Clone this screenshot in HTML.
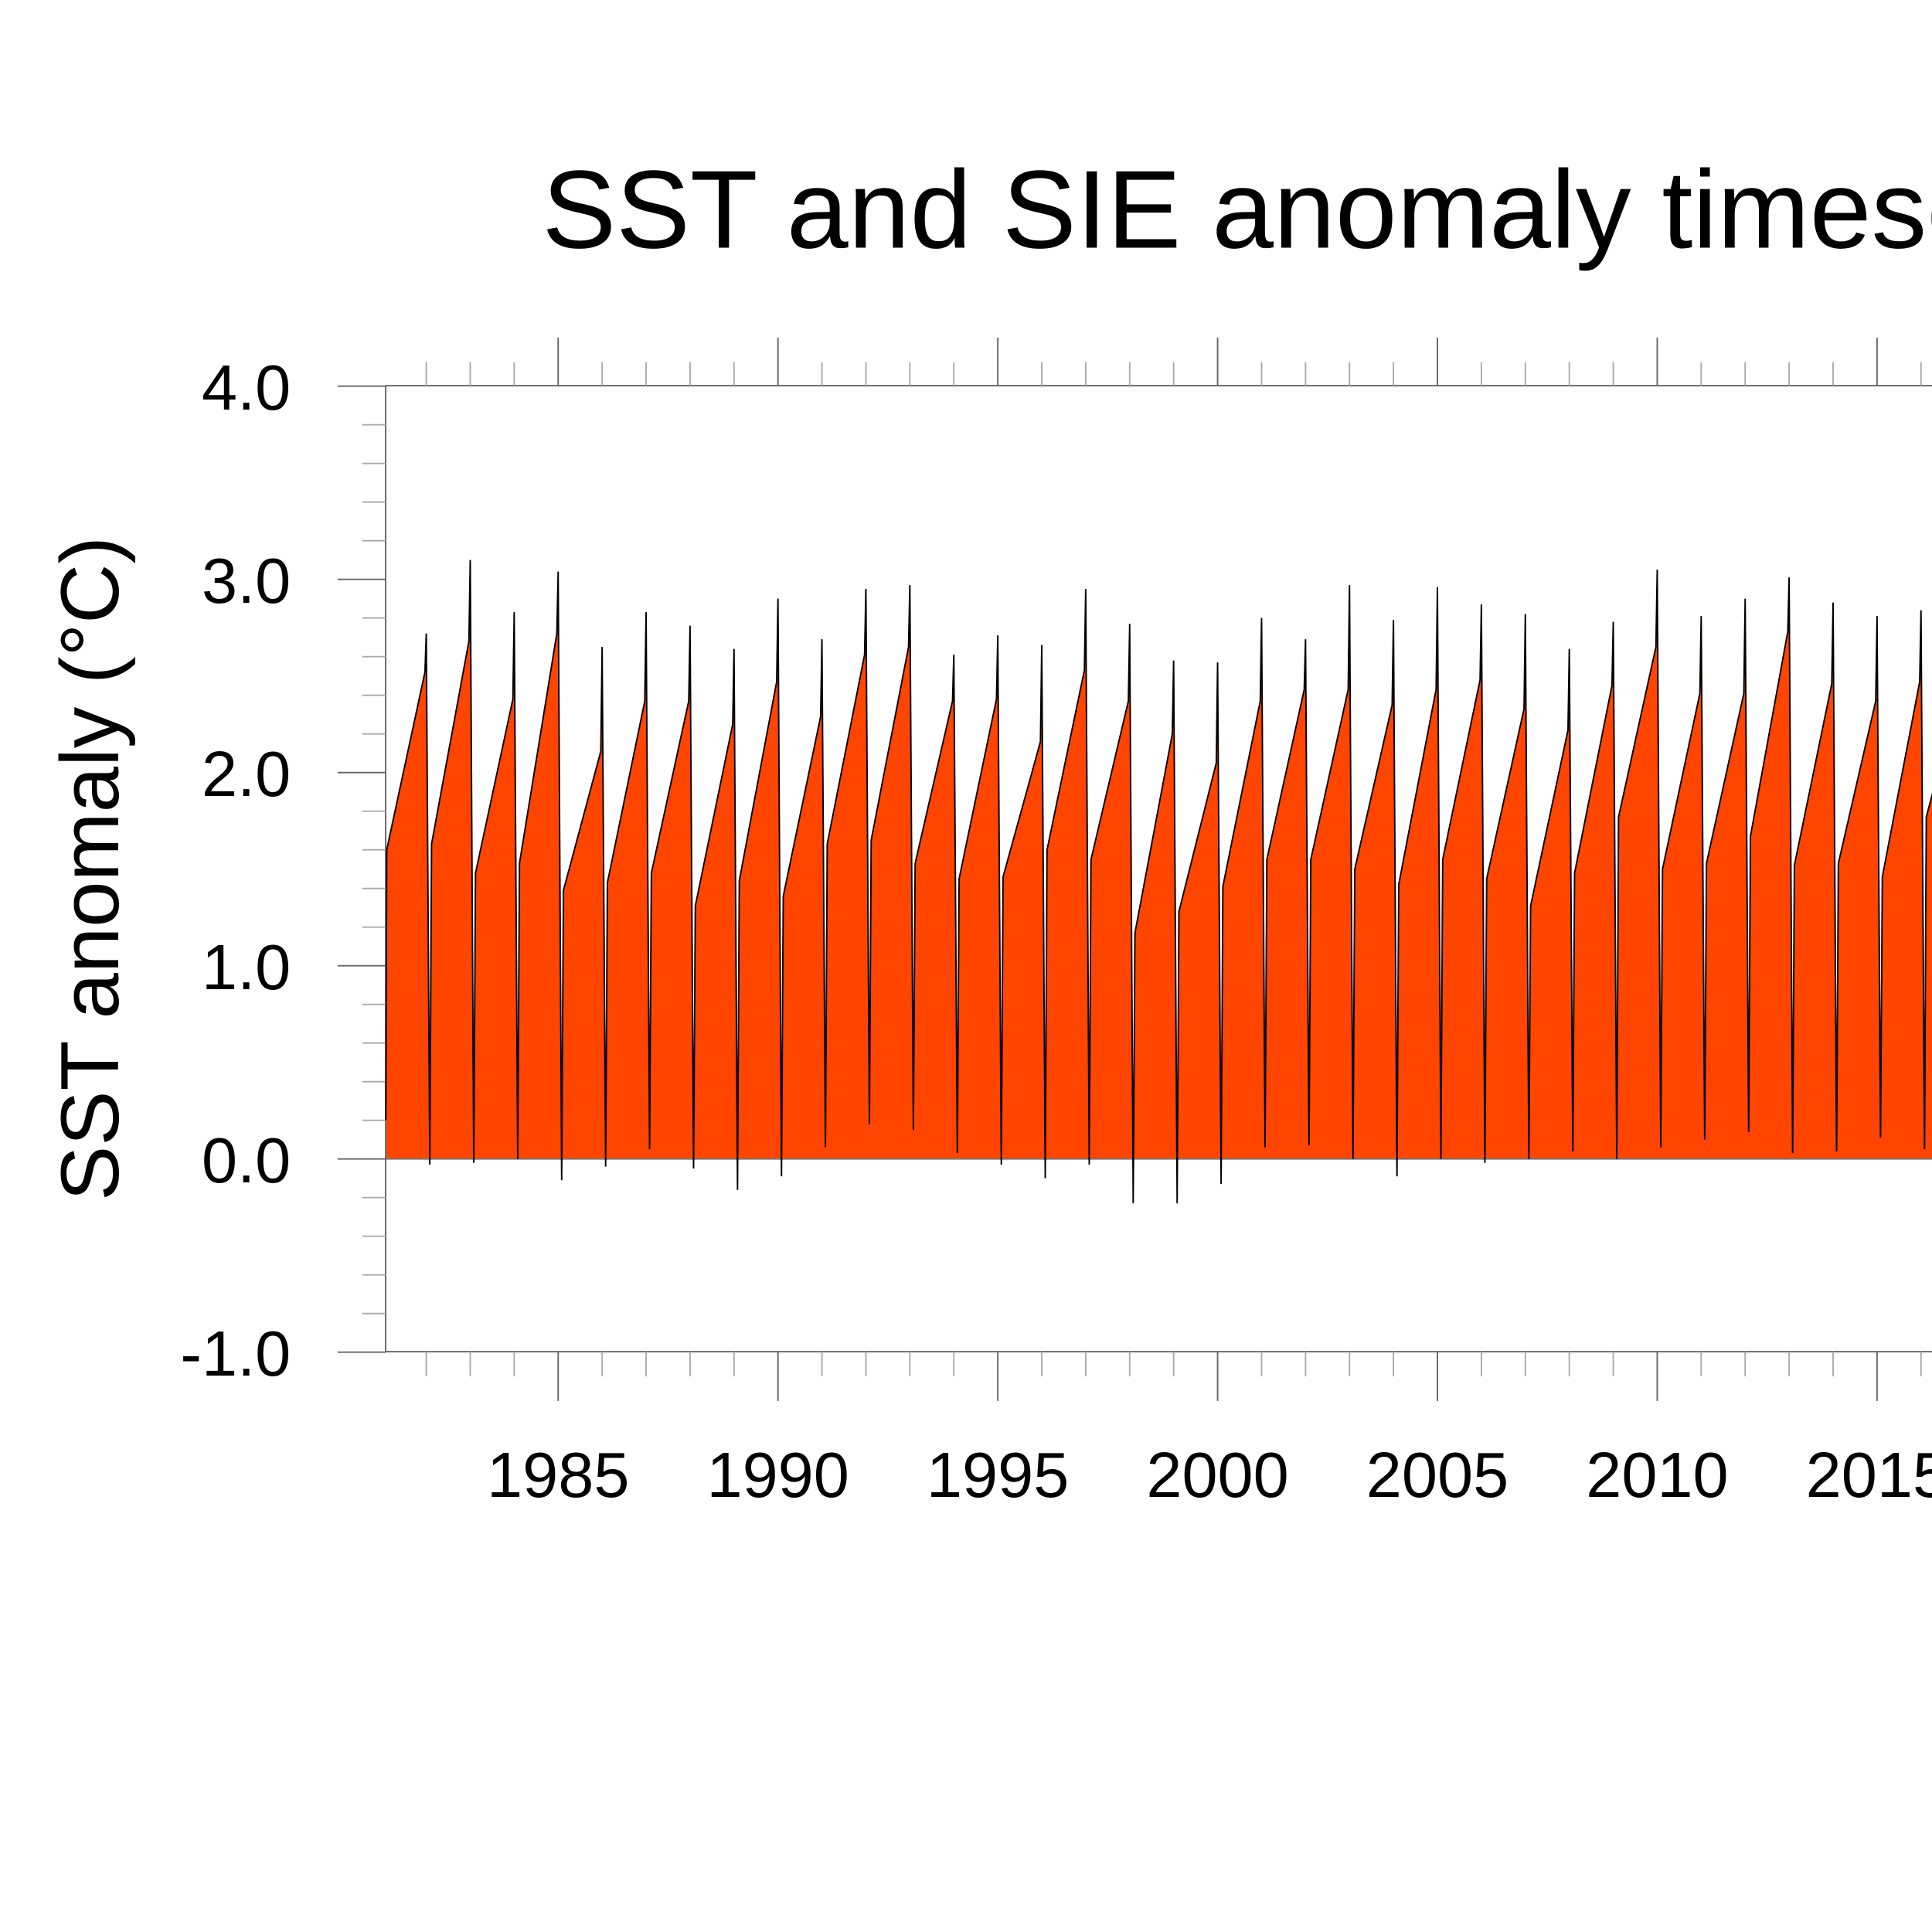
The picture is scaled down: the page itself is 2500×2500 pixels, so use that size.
<!DOCTYPE html>
<html><head><meta charset="utf-8"><style>html,body{margin:0;padding:0;background:#fff}svg{display:block}</style></head>
<body>
<svg id="chart" xmlns="http://www.w3.org/2000/svg" width="2500" height="2500" viewBox="0 0 1568 1568" font-family="Liberation Sans, sans-serif">
<text x="440" y="201" font-size="90">SST and SIE anomaly timeseries</text>
<text transform="translate(96,705) rotate(-90)" text-anchor="middle" font-size="67">SST anomaly (°C)</text>
<defs><clipPath id="above0"><rect x="313" y="0" width="2000" height="940.6"/></clipPath></defs>
<g id="fill" clip-path="url(#above0)"></g>
<g id="axes"></g>
<g id="line"></g>
</svg>
<script>
const cycleEndYears=[1982,1983,1984,1985,1986,1987,1988,1989,1990,1991,1992,1993,1994,1995,1996,1997,1998,1999,2000,2001,2002,2003,2004,2005,2006,2007,2008,2009,2010,2011,2012,2013,2014,2015,2016,2017,2018];
const startVals=[1.6,1.63,1.48,1.53,1.39,1.43,1.48,1.31,1.44,1.36,1.63,1.65,1.53,1.45,1.46,1.6,1.55,1.17,1.28,1.41,1.55,1.55,1.5,1.42,1.55,1.45,1.31,1.48,1.77,1.5,1.53,1.67,1.52,1.53,1.46,1.77,1.6];
const endVals=[2.52,2.68,2.38,2.72,2.11,2.37,2.37,2.25,2.47,2.29,2.61,2.65,2.37,2.38,2.16,2.53,2.37,2.2,2.05,2.37,2.43,2.43,2.35,2.43,2.48,2.33,2.22,2.45,2.65,2.41,2.41,2.73,2.46,2.37,2.47,2.5,2.4];
const peakVals=[2.72,3.1,2.83,3.04,2.65,2.83,2.76,2.64,2.9,2.69,2.95,2.97,2.61,2.71,2.66,2.95,2.77,2.58,2.57,2.8,2.69,2.97,2.79,2.96,2.87,2.82,2.64,2.78,3.05,2.81,2.9,3.01,2.88,2.81,2.84,2.9,2.8];
const troughVals=[-0.03,-0.02,0.0,-0.11,-0.04,0.05,-0.05,-0.16,-0.09,0.06,0.18,0.15,0.03,-0.03,-0.1,-0.03,-0.23,-0.23,-0.13,0.06,0.07,0.0,-0.09,0.0,-0.02,0.0,0.04,0.0,0.06,0.1,0.14,0.03,0.04,0.11,0.05,0.05,0.05];
const yTicks=[-1,0,1,2,3,4];
const yTickLabels=["-1.0","0.0","1.0","2.0","3.0","4.0"];
const xMajor=[1985,1990,1995,2000,2005,2010,2015];
const xMajorLabels=["1985","1990","1995","2000","2005","2010","2015"];

const NS="http://www.w3.org/2000/svg";
const X=t=>453+(t-1985)*35.68;
const Y=v=>940.6-v*156.8;
const L=313,T=313,B=1097,R=1568;
function mk(tag,attrs,parent){const e=document.createElementNS(NS,tag);for(const k in attrs)e.setAttribute(k,attrs[k]);parent.appendChild(e);return e;}
const axes=document.getElementById('axes');
const pts=[[1981.08,0.2]];
for(let i=0;i<cycleEndYears.length;i++){
  const y=cycleEndYears[i];
  pts.push([y-1+(i===0?0.1:0.12),startVals[i]]);
  pts.push([y-0.03,endVals[i]]);
  pts.push([y,peakVals[i]]);
  pts.push([y+0.08,troughVals[i]]);
}
const d=pts.map((p,i)=>(i?'L':'M')+X(p[0]).toFixed(2)+' '+Y(p[1]).toFixed(2)).join(' ');
const last=pts[pts.length-1];
const fp=mk('path',{d:d+' L'+X(last[0])+' '+Y(0)+' L'+X(pts[0][0])+' '+Y(0)+' Z',fill:'#FF4500',stroke:'none'},document.getElementById('fill'));


const lp=mk('path',{d:d,fill:'none',stroke:'#000','stroke-width':1.2,'stroke-linejoin':'miter'},document.getElementById('line'));


const z=mk('line',{x1:L,x2:R,y1:Y(0),y2:Y(0),stroke:'#777','stroke-width':1.2},axes);


[[L,T,L,B],[L,T,R,T],[L,B,R,B]].forEach(c=>{const e=mk('line',{x1:c[0],y1:c[1],x2:c[2],y2:c[3],stroke:'#666','stroke-width':1.2},axes);

});
for(let v=-1;v<=4.001;v+=0.2){const major=Math.abs(v-Math.round(v))<1e-6;
 const e=mk('line',{x1:major?274:294,x2:L,y1:Y(v),y2:Y(v),stroke:major?'#666':'#aaa','stroke-width':1.2},axes);
 
 }
yTicks.forEach((v,i)=>{const t=mk('text',{x:236,y:Y(v)+19,'text-anchor':'end','font-size':52},axes);t.textContent=yTickLabels[i];
 
 });
for(let yr=1982;yr<=2020;yr++){const major=yr%5===0;const x=X(yr);if(x>R)break;
 const a=mk('line',{x1:x,x2:x,y1:T,y2:major?274:294,stroke:major?'#666':'#aaa','stroke-width':1.2},axes);
 
 
 const b=mk('line',{x1:x,x2:x,y1:B,y2:major?1137:1117,stroke:major?'#666':'#aaa','stroke-width':1.2},axes);
 
 }
xMajor.forEach((yr,i)=>{const t=mk('text',{x:X(yr),y:1215,'text-anchor':'middle','font-size':52},axes);t.textContent=xMajorLabels[i];
 
 });
</script>
</body></html>
